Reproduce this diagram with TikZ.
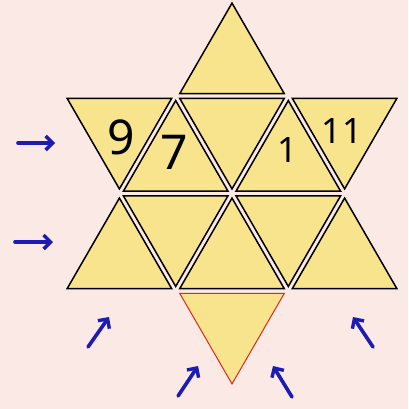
\documentclass[tikz,border=0pt]{standalone}
\usepackage{fontspec}
\setmainfont{Noto Sans}
\usetikzlibrary{arrows.meta}
\definecolor{bgpink}{RGB}{250,233,228}
\definecolor{triyellow}{RGB}{248,228,140}
\definecolor{arrblue}{RGB}{28,28,178}
\definecolor{trired}{RGB}{225,40,30}
\tikzset{
  tri/.style={draw=black, fill=triyellow, line width=1.5pt, line join=miter},
  redtri/.style={draw=trired, fill=triyellow, line width=1pt, line join=miter},
  numlabel/.style={font=\fontsize{48}{48}\selectfont, inner sep=0pt},
  smalllabel/.style={font=\fontsize{35}{35}\selectfont, inner sep=0pt},
  bluearrow/.style={draw=arrblue, line width=3.6pt, line cap=round, -{Straight Barb[length=7pt,width=14pt,line width=3.4pt]}}
}
% up triangle (apex at top of image) with centroid (#2,#3)
\newcommand\uptri[3][tri]{\path[#1] (#2,#3-60.4) -- (#2+52.3,#3+30.2) -- (#2-52.3,#3+30.2) -- cycle;}
\newcommand\dntri[3][tri]{\path[#1] (#2,#3+60.4) -- (#2+52.3,#3-30.2) -- (#2-52.3,#3-30.2) -- cycle;}
\begin{document}
\begin{tikzpicture}[x=1pt,y=-1pt]
\fill[bgpink] (0,0) rectangle (408,409);
\useasboundingbox (0,0) rectangle (408,409);
% top
\uptri{232}{63.5}
% row 1
\dntri{119.4}{128.5}
\dntri{232}{128.5}
\dntri{344.6}{128.5}
\uptri{175.7}{161}
\uptri{288.3}{161}
% row 2
\uptri{119.4}{258.5}
\uptri{232}{258.5}
\uptri{344.6}{258.5}
\dntri{175.7}{226}
\dntri{288.3}{226}
% bottom (red)
\dntri[redtri]{232}{323.5}
% numbers
\node[numlabel] (n9) at (121,137) {9};
\node[numlabel] (n7) at (174,152) {7};
\node[smalllabel] (n1) at (288,150) {1};
\node[smalllabel] (n11) at (342,131) {11};
% arrows
\coordinate (a1s) at (18,143); \coordinate (a1e) at (55,143);
\coordinate (a2s) at (15,242); \coordinate (a2e) at (53,242);
\coordinate (a3s) at (88,347); \coordinate (a3e) at (109,317);
\coordinate (a4s) at (178,396); \coordinate (a4e) at (198,366);
\coordinate (a5s) at (292,397); \coordinate (a5e) at (273,366);
\coordinate (a6s) at (373,347); \coordinate (a6e) at (353,317);
\draw[bluearrow] (a1s) -- (a1e);
\draw[bluearrow] (a2s) -- (a2e);
\draw[bluearrow] (a3s) -- (a3e);
\draw[bluearrow] (a4s) -- (a4e);
\draw[bluearrow] (a5s) -- (a5e);
\draw[bluearrow] (a6s) -- (a6e);
\end{tikzpicture}
\end{document}
